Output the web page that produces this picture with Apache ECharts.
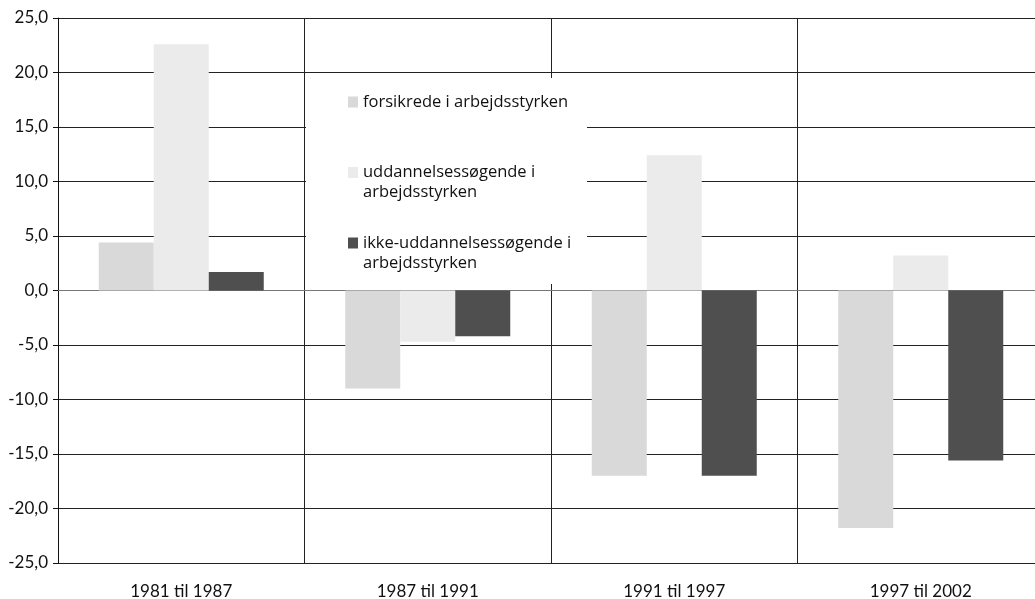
<!DOCTYPE html>
<html>
<head>
<meta charset="utf-8">
<script src="https://cdn.jsdelivr.net/npm/echarts@6/dist/echarts.min.js"></script>
<style>html,body{margin:0;padding:0;background:#fff}#c{width:1035px;height:599px}</style>
</head>
<body>
<div id="c"></div>
<script>
const categories = ['1981 til 1987', '1987 til 1991', '1991 til 1997', '1997 til 2002'];
const seriesNames = ['forsikrede i arbejdsstyrken', 'uddannelsessøgende i arbejdsstyrken', 'ikke-uddannelsessøgende i arbejdsstyrken'];
const forsikrede = [4.4, -9.0, -17.0, -21.8];
const uddannelsessoegende = [22.6, -4.7, 12.4, 3.2];
const ikkeUddannelsessoegende = [1.7, -4.2, -17.0, -15.6];
const yMin = -25, yMax = 25, yStep = 5;
const colors = ['#d9d9d9', '#ebebeb', '#4f4f4f'];

const chart = echarts.init(document.getElementById('c'), null, {renderer: 'canvas'});
const values = [forsikrede, uddannelsessoegende, ikkeUddannelsessoegende];
const lineColor = '#222';
chart.setOption({
  animation: false,
  backgroundColor: '#fff',
  grid: {left: 58, top: 18, width: 986, height: 545, containLabel: false, outerBoundsMode: 'none'},
  xAxis: {
    type: 'category', data: categories, boundaryGap: true,
    axisLine: {show: true, lineStyle: {color: '#777', width: 1}},
    axisTick: {show: false},
    splitLine: {show: true, lineStyle: {color: lineColor, width: 1}},
    axisLabel: {fontFamily: 'Lato', fontSize: 17, color: '#111', margin: 20}
  },
  yAxis: {
    type: 'value', min: yMin, max: yMax, interval: yStep,
    axisLine: {show: true, lineStyle: {color: '#111', width: 1}},
    axisTick: {show: true, length: 5, lineStyle: {color: '#111'}},
    splitLine: {show: true, lineStyle: {color: lineColor, width: 1}},
    axisLabel: {fontFamily: 'Lato', fontSize: 17, color: '#111', margin: 10,
      formatter: v => v.toFixed(1).replace('.', ',')}
  },
  graphic: [{type: 'rect', left: 306, top: 78, shape: {width: 281, height: 206}, style: {fill: '#fff'}, z: 3}],
  legend: {
    orient: 'vertical', left: 348, top: 72, padding: 0, itemGap: 10.5,
    itemWidth: 10, itemHeight: 11, icon: 'rect',
    textStyle: {fontFamily: 'Open Sans', fontSize: 16.5, color: '#111', lineHeight: 20},
    formatter: name => name === seriesNames[0]
      ? ' \n' + name + '\n '
      : ' \n' + name.replace(' arbejdsstyrken', '\narbejdsstyrken'),
    data: seriesNames,
    z: 4
  },
  series: seriesNames.map((n, i) => ({
    name: n, type: 'bar', data: values[i], barWidth: 55, barGap: '0%',
    itemStyle: {color: colors[i]}, z: 2
  }))
});
</script>
</body>
</html>
